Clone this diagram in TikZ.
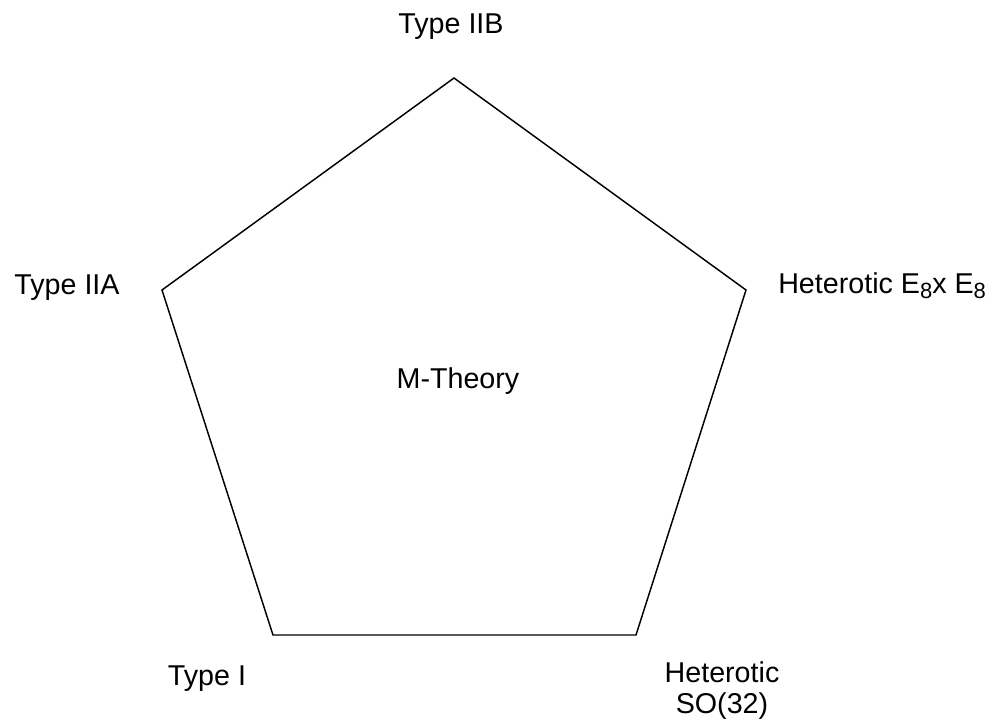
\documentclass[tikz,border=0pt]{standalone}
\usepackage{fontspec}
\setmainfont{Liberation Sans}
\newcommand{\eightsub}{\raisebox{-3.8pt}{\fontsize{16.5}{16.5}\selectfont 8}}
\begin{document}
\begin{tikzpicture}[x=0.75pt, y=-0.75pt, font=\fontsize{21.5}{23.25}\selectfont,
  lbl/.style={anchor=base, inner sep=0pt}]
  \useasboundingbox (0,0) rectangle (1001,722);

  % Pentagon corners
  \coordinate (iib) at (454,78);
  \coordinate (iia) at (162,290);
  \coordinate (het) at (746,290);
  \coordinate (one) at (273,635);
  \coordinate (so)  at (636,635);
  \draw[line width=1.1pt, line join=miter] (iib) -- (het) -- (so) -- (one) -- (iia) -- cycle;

  % Centre
  \node[lbl] (mth) at (458,388) {M-Theory};

  % Corner labels
  \node[lbl] (liib) at (451,33)  {Type IIB};
  \node[lbl] (liia) at (67,294)  {Type IIA};
  \node[lbl, anchor=base west] (lhet) at (778,293) {Heterotic E\eightsub x E\eightsub};
  \node[lbl] (lone) at (207,685) {Type I};
  \node[lbl] (lso1) at (722,682) {Heterotic};
  \node[lbl] (lso2) at (722,713) {SO(32)};
\end{tikzpicture}
\end{document}
